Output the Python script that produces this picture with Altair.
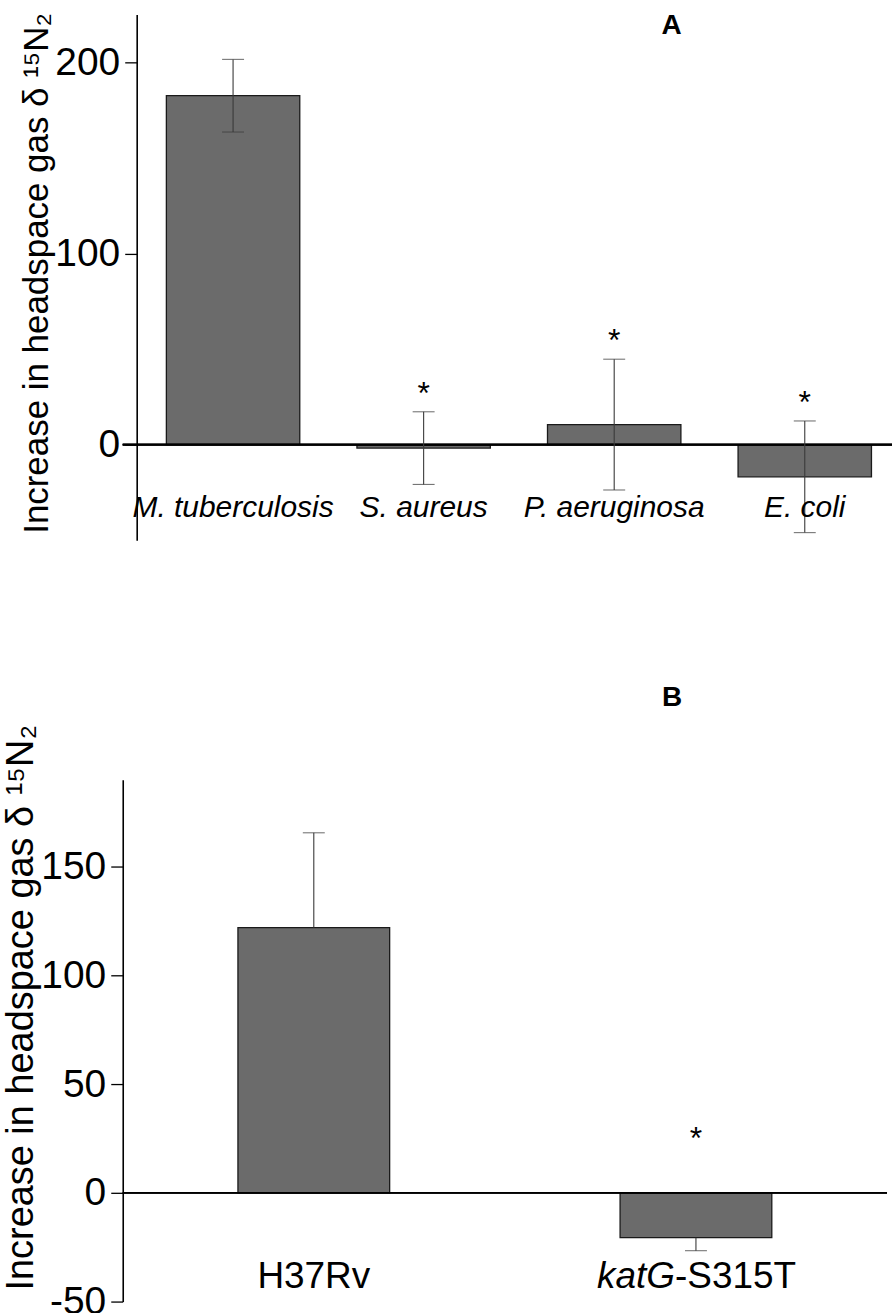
import altair as alt
import pandas as pd

# ---------------- data ----------------
# Panel A
a_species = ["M. tuberculosis", "S. aureus", "P. aeruginosa", "E. coli"]
a_mean = [182.5, -1.8, 10.5, -16.8]
a_err = [19.0, 19.0, 34.2, 29.2]
a_star = [False, True, True, True]

# Panel B
b_strain = ["H37Rv", "katG-S315T"]
b_label_italic = ["", "katG"]
b_label_plain = ["H37Rv", "-S315T"]
b_mean = [122.0, -20.6]
b_err = [43.6, 6.0]
b_star = [False, True]

y_title = "Increase in headspace gas \u03b4 \u00b9\u2075N\u2082"
FONT = "Liberation Sans"
BAR_FILL = "#6b6b6b"
WHISKER = "#3a3a3a"

dfa = pd.DataFrame({"cat": a_species, "mean": a_mean, "err": a_err, "star": a_star})
dfa["lo"] = dfa["mean"] - dfa["err"]
dfa["hi"] = dfa["mean"] + dfa["err"]
dfa["letter"] = ["", "", "A", ""]

dfb = pd.DataFrame({"cat": b_strain, "mean": b_mean, "err": b_err, "star": b_star,
                    "ital": b_label_italic, "plain": b_label_plain})
# only the outward half of each whisker is visible in panel B
dfb["end"] = dfb["mean"] + dfb["err"] * dfb["mean"].apply(lambda v: 1 if v >= 0 else -1)
dfb["top"] = dfb[["mean", "end"]].max(axis=1).clip(lower=0)
dfb["letter"] = ["", "B"]


def y_axis(ticks, offset, title_size, title_y):
    return alt.Axis(values=ticks, title=y_title, offset=offset, grid=False,
                    labelExpr="'' + datum.value",
                    domainColor="black", domainWidth=1.6, tickColor="black",
                    tickWidth=1.3, tickSize=12, labelPadding=5, labelFont=FONT,
                    labelFontSize=39, labelColor="black", titleFont=FONT,
                    titleFontSize=title_size, titleFontWeight="normal",
                    titleColor="black", titlePadding=0, titleY=title_y)


# ---------------- panel A ----------------
xa = alt.X("cat:N", sort=a_species, axis=None,
           scale=alt.Scale(paddingInner=0.3, paddingOuter=0.1684, align=0.68))
ya = alt.Scale(domain=[-50, 225], nice=False, zero=False)
ba = alt.Chart(dfa)

a_bars = ba.mark_bar(fill=BAR_FILL, stroke="#1a1a1a", strokeWidth=1.3).encode(
    x=xa, y=alt.Y("mean:Q", scale=ya, axis=y_axis([0, 100, 200], -14, 35, 259)),
    y2=alt.datum(0))
a_zero = ba.mark_rule(color="black", strokeWidth=1.8).encode(y=alt.datum(0))
a_whisk = ba.mark_rule(color=WHISKER, strokeWidth=1.1).encode(
    x=xa, y=alt.Y("lo:Q", scale=ya), y2="hi:Q")
a_cap_lo = ba.mark_tick(color=WHISKER, thickness=1.1, size=22).encode(
    x=xa, y=alt.Y("lo:Q", scale=ya))
a_cap_hi = ba.mark_tick(color=WHISKER, thickness=1.1, size=22).encode(
    x=xa, y=alt.Y("hi:Q", scale=ya))
a_stars = ba.transform_filter("datum.star").mark_text(
    text="*", font=FONT, fontSize=32, color="black", baseline="middle", dy=-18
).encode(x=xa, y=alt.Y("hi:Q", scale=ya))
a_labels = ba.mark_text(font=FONT, fontSize=30, fontStyle="italic", color="black",
                        baseline="alphabetic").encode(
    x=xa, y=alt.datum(-38), text="cat:N")
a_letter = ba.transform_filter("datum.letter != ''").mark_text(
    font=FONT, fontSize=28, fontWeight="bold", color="black", baseline="alphabetic",
    dx=57.5).encode(x=xa, y=alt.datum(215), text="letter:N")

chart_a = alt.layer(a_bars, a_zero, a_whisk, a_cap_lo, a_cap_hi, a_stars, a_labels,
                    a_letter).properties(width=771, height=527)

# ---------------- panel B ----------------
xb = alt.X("cat:N", sort=b_strain, axis=None,
           scale=alt.Scale(paddingInner=0.603, paddingOuter=0.3015, align=0.5))
yb = alt.Scale(domain=[-50, 190], nice=False, zero=False)
bb = alt.Chart(dfb)

b_bars = bb.mark_bar(fill=BAR_FILL, stroke="#1a1a1a", strokeWidth=1.3).encode(
    x=xb, y=alt.Y("mean:Q", scale=yb,
                  axis=y_axis([-50, 0, 50, 100, 150], 0, 38, 228)),
    y2=alt.datum(0))
b_zero = bb.mark_rule(color="black", strokeWidth=1.8).encode(y=alt.datum(0))
b_whisk = bb.mark_rule(color=WHISKER, strokeWidth=1.1).encode(
    x=xb, y=alt.Y("mean:Q", scale=yb), y2="end:Q")
b_cap = bb.mark_tick(color=WHISKER, thickness=1.1, size=22).encode(
    x=xb, y=alt.Y("end:Q", scale=yb))
b_stars = bb.transform_filter("datum.star").mark_text(
    text="*", font=FONT, fontSize=32, color="black", baseline="middle", dy=-54
).encode(x=xb, y=alt.Y("top:Q", scale=yb))
b_lab_center = bb.transform_filter("datum.ital == ''").mark_text(
    font=FONT, fontSize=37, color="black", baseline="alphabetic").encode(
    x=xb, y=alt.datum(-43.6), text="plain:N")
b_lab_ital = bb.transform_filter("datum.ital != ''").mark_text(
    font=FONT, fontSize=37, fontStyle="italic", color="black", baseline="alphabetic",
    align="right", dx=-21).encode(x=xb, y=alt.datum(-43.6), text="ital:N")
b_lab_rest = bb.transform_filter("datum.ital != ''").mark_text(
    font=FONT, fontSize=37, color="black", baseline="alphabetic",
    align="left", dx=-21).encode(x=xb, y=alt.datum(-43.6), text="plain:N")
b_letter = bb.transform_filter("datum.letter != ''").mark_text(
    font=FONT, fontSize=28, fontWeight="bold", color="black", baseline="alphabetic",
    dx=-24).encode(x=xb, y=alt.datum(224), text="letter:N")

chart_b = alt.layer(b_bars, b_zero, b_whisk, b_cap, b_stars, b_lab_center, b_lab_ital,
                    b_lab_rest, b_letter).properties(width=766, height=523)

chart = alt.vconcat(chart_a, chart_b, spacing=143).properties(
    padding={"left": 2, "top": 10, "right": 0, "bottom": 0}
).configure(font=FONT).configure_view(stroke=None, strokeWidth=0)

chart.save("out.html", embed_options={"renderer": "svg", "actions": False})
